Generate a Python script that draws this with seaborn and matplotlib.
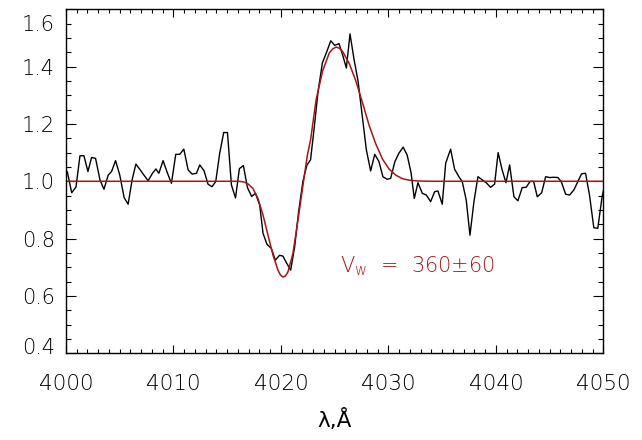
import matplotlib
matplotlib.use("Agg")
import matplotlib.pyplot as plt
import matplotlib.transforms as mtransforms
import seaborn as sns
import numpy as np
import pandas as pd

wave = [4000.0, 4000.12, 4000.53, 4000.93, 4001.3, 4001.67, 4002.04, 4002.38, 4002.75,
        4003.16, 4003.53, 4003.93, 4004.24, 4004.61, 4005.0, 4005.41, 4005.78, 4006.15,
        4006.5, 4006.88, 4007.26, 4007.64, 4008.05, 4008.36, 4008.64, 4009.03, 4009.44,
        4009.81, 4010.21, 4010.58, 4010.96, 4011.36, 4011.73, 4012.14, 4012.44, 4012.84,
        4013.21, 4013.58, 4013.93, 4014.3, 4014.67, 4015.02, 4015.39, 4015.77, 4016.13,
        4016.5, 4016.88, 4017.27, 4017.62, 4018.02, 4018.33, 4018.7, 4019.1, 4019.47,
        4019.87, 4020.18, 4020.55, 4020.9, 4021.27, 4021.64, 4022.04, 4022.4, 4022.75,
        4023.1, 4023.45, 4023.85, 4024.22, 4024.63, 4025.0, 4025.4, 4025.77, 4026.08,
        4026.42, 4026.8, 4027.17, 4027.57, 4027.94, 4028.34, 4028.72, 4029.11, 4029.48,
        4029.88, 4030.2, 4030.6, 4030.97, 4031.37, 4031.74, 4032.1, 4032.4, 4032.74,
        4033.15, 4033.52, 4033.92, 4034.3, 4034.6, 4035.0, 4035.32, 4035.78, 4036.15,
        4036.55, 4036.86, 4037.23, 4037.58, 4037.95, 4038.32, 4038.72, 4039.09, 4039.5,
        4039.87, 4040.2, 4040.57, 4040.93, 4041.27, 4041.67, 4042.04, 4042.44, 4042.81,
        4043.16, 4043.5, 4043.84, 4044.25, 4044.62, 4044.99, 4045.39, 4045.76, 4046.07,
        4046.48, 4046.85, 4047.25, 4047.62, 4047.96, 4048.33, 4048.7, 4049.1, 4049.47,
        4049.87, 4050.2]
flux = [1.028, 1.034, 0.96, 0.98, 1.089, 1.089, 1.034, 1.083, 1.08,
        1.005, 0.972, 1.022, 1.034, 1.072, 1.022, 0.943, 0.92, 1.005,
        1.06, 1.041, 1.021, 1.002, 1.028, 1.043, 1.028, 1.072, 1.028,
        0.993, 1.094, 1.094, 1.112, 1.04, 1.025, 1.028, 1.057, 1.037,
        0.99, 0.981, 0.999, 1.098, 1.17, 1.17, 0.987, 0.942, 1.044,
        1.055, 0.978, 0.947, 0.958, 0.917, 0.818, 0.78, 0.766, 0.725,
        0.742, 0.739, 0.713, 0.69, 0.771, 0.894, 1.0, 1.055, 1.075,
        1.19, 1.313, 1.413, 1.448, 1.49, 1.474, 1.48, 1.436, 1.395,
        1.514, 1.424, 1.349, 1.226, 1.11, 1.036, 1.094, 1.069, 1.016,
        1.007, 1.01, 1.069, 1.098, 1.119, 1.091, 1.03, 0.94, 0.995,
        0.958, 0.952, 0.929, 0.964, 0.966, 0.92, 1.063, 1.112, 1.042,
        1.016, 0.999, 0.935, 0.812, 0.929, 1.016, 1.005, 0.995, 0.979,
        0.99, 1.1, 1.04, 0.995, 1.057, 0.946, 0.932, 0.978, 0.979,
        0.999, 1.0, 0.946, 0.96, 1.016, 1.013, 1.014, 1.013, 0.999,
        0.955, 0.952, 0.97, 0.999, 1.026, 1.028, 0.952, 0.838, 0.836,
        0.946, 1.0]

# fitted profile (red curve)
fit_wave = [4000.0, 4016.0, 4016.5, 4016.93, 4017.39, 4017.86, 4018.33, 4018.79,
            4019.26, 4019.72, 4019.95, 4020.18, 4020.42, 4020.65, 4021.11, 4021.58,
            4022.04, 4022.45, 4022.75, 4023.27, 4023.88, 4024.5, 4024.82, 4025.13,
            4025.44, 4025.74, 4026.36, 4026.98, 4027.6, 4028.2, 4028.82, 4029.45,
            4030.07, 4030.7, 4031.3, 4031.9, 4032.8, 4034.0, 4050.0]
fit_flux = [1.0, 1.0, 0.998, 0.991, 0.975, 0.94, 0.882, 0.812,
            0.742, 0.69, 0.673, 0.666, 0.670, 0.684, 0.748, 0.865,
            0.985, 1.09, 1.144, 1.285, 1.386, 1.448, 1.462, 1.468,
            1.464, 1.452, 1.41, 1.348, 1.272, 1.195, 1.13, 1.077,
            1.042, 1.021, 1.009, 1.004, 1.001, 1.0, 1.0]

note = "V$_\\mathregular{w}$  =  360\u00b160"
red = "#a3161a"

spec = pd.DataFrame({"wave": wave, "flux": flux})
fit = pd.DataFrame({"wave": fit_wave, "flux": fit_flux})

sns.set_style("ticks")
plt.rcParams["font.family"] = ["DejaVu Sans"]
plt.rcParams["font.weight"] = "light"
plt.rcParams["mathtext.fontset"] = "dejavusans"

fig = plt.figure(figsize=(6.42, 4.40), dpi=100)
ax = fig.add_axes([0.1028, 0.197, 0.8372, 0.782])

sns.lineplot(data=spec, x="wave", y="flux", ax=ax, color="black", lw=1.0,
             estimator=None, sort=False)
sns.lineplot(data=fit, x="wave", y="flux", ax=ax, color=red, lw=1.1,
             estimator=None, sort=False)

ax.set_xlim(4000, 4050)
ax.set_ylim(0.4, 1.6)
ax.set_xticks(np.arange(4000, 4051, 10))
ax.set_xticks(np.arange(4000, 4051, 1), minor=True)
ax.set_yticks([0.4, 0.6, 0.8, 1.0, 1.2, 1.4, 1.6])
ax.set_yticks(np.arange(0.4, 1.601, 0.05), minor=True)
ax.set_yticklabels(["0.4", "0.6", "0.8", "1.0", "1.2", "1.4", "1.6"])

ax.tick_params(which="both", direction="in", top=True, right=True, width=0.8,
               color="black", labelsize=15, labelcolor="black")
ax.tick_params(axis="x", which="major", length=5.5, pad=15, labelsize=15.5)
ax.tick_params(axis="x", which="minor", length=2.8)
ax.tick_params(axis="y", which="major", length=7.5, pad=8)
ax.tick_params(axis="y", which="minor", length=3.8)

# edge labels sit inside the frame, as in the original
yt = ax.yaxis.get_major_ticks()
yt[0].label1.set_transform(yt[0].label1.get_transform() +
                           mtransforms.ScaledTranslation(0, 5 / 72, fig.dpi_scale_trans))
yt[-1].label1.set_transform(yt[-1].label1.get_transform() +
                            mtransforms.ScaledTranslation(0, -10 / 72, fig.dpi_scale_trans))

for s in ax.spines.values():
    s.set_linewidth(1.0)
    s.set_color("black")

ax.set_xlabel("\u03bb,\u00c5", fontsize=15.5, color="black", labelpad=11)
ax.set_ylabel("")

ax.text(4025.5, 0.705, note, color=red, fontsize=15, ha="left", va="center")

fig.savefig("out.png", dpi=100)
